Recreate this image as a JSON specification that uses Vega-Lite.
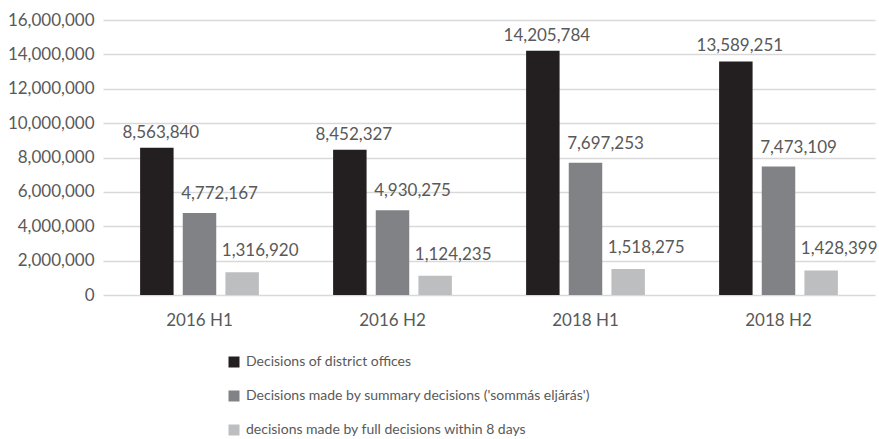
{
  "$schema": "https://vega.github.io/schema/vega-lite/v6.json",
  "width": 772,
  "height": 275,
  "autosize": {"type": "none"},
  "padding": {"left": 103, "top": 20, "right": 4, "bottom": 144},
  "background": "white",
  "config": {
    "font": "Lato",
    "view": {"stroke": null},
    "axis": {"labelColor": "#595959", "labelFont": "Lato", "labelFontSize": 17, "domain": false, "ticks": false, "title": null},
    "legend": {"labelColor": "#595959", "labelFont": "Lato", "labelFontSize": 14, "labelLimit": 700}
  },
  "data": {
    "values": [
      {"period": "2016 H1", "series": "Decisions of district offices", "value": 8563840},
      {"period": "2016 H1", "series": "Decisions made by summary decisions ('sommás eljárás')", "value": 4772167},
      {"period": "2016 H1", "series": "decisions made by full decisions within 8 days", "value": 1316920},
      {"period": "2016 H2", "series": "Decisions of district offices", "value": 8452327},
      {"period": "2016 H2", "series": "Decisions made by summary decisions ('sommás eljárás')", "value": 4930275},
      {"period": "2016 H2", "series": "decisions made by full decisions within 8 days", "value": 1124235},
      {"period": "2018 H1", "series": "Decisions of district offices", "value": 14205784},
      {"period": "2018 H1", "series": "Decisions made by summary decisions ('sommás eljárás')", "value": 7697253},
      {"period": "2018 H1", "series": "decisions made by full decisions within 8 days", "value": 1518275},
      {"period": "2018 H2", "series": "Decisions of district offices", "value": 13589251},
      {"period": "2018 H2", "series": "Decisions made by summary decisions ('sommás eljárás')", "value": 7473109},
      {"period": "2018 H2", "series": "decisions made by full decisions within 8 days", "value": 1428399}
    ]
  },
  "encoding": {
    "x": {
      "field": "period", "type": "nominal", "sort": null,
      "scale": {"paddingInner": 0.337, "paddingOuter": 0.1685},
      "axis": {"labelAngle": 0, "labelPadding": 17, "grid": false}
    },
    "xOffset": {
      "field": "series", "type": "nominal",
      "sort": ["Decisions of district offices", "Decisions made by summary decisions ('sommás eljárás')", "decisions made by full decisions within 8 days"],
      "scale": {"paddingInner": 0.215, "paddingOuter": 0.1075}
    },
    "y": {
      "field": "value", "type": "quantitative",
      "scale": {"domain": [0, 16000000], "nice": false},
      "axis": {"values": [0, 2000000, 4000000, 6000000, 8000000, 10000000, 12000000, 14000000, 16000000], "format": ",.0f", "gridColor": "#d9d9d9", "gridWidth": 1.3, "labelPadding": 9}
    }
  },
  "layer": [
    {
      "mark": {"type": "bar"},
      "encoding": {
        "color": {
          "field": "series", "type": "nominal",
          "scale": {
            "domain": ["Decisions of district offices", "Decisions made by summary decisions ('sommás eljárás')", "decisions made by full decisions within 8 days"],
            "range": ["#231f20", "#808285", "#bcbec0"]
          },
          "legend": {
            "orient": "none", "legendX": 124, "legendY": 335, "direction": "vertical",
            "title": null, "symbolType": "square", "symbolSize": 121, "symbolStrokeWidth": 0,
            "rowPadding": 20, "labelOffset": 5, "padding": 0, "symbolOpacity": 1
          }
        }
      }
    },
    {
      "transform": [{"filter": "datum.series === 'Decisions of district offices'"}],
      "mark": {"type": "text", "baseline": "middle", "dx": 4, "dy": -15, "fontSize": 17, "color": "#595959", "font": "Lato"},
      "encoding": {"text": {"field": "value", "type": "quantitative", "format": ",.0f"}}
    },
    {
      "transform": [{"filter": "datum.series === \"Decisions made by summary decisions ('sommás eljárás')\""}],
      "mark": {"type": "text", "baseline": "middle", "dx": 20, "dy": -19, "fontSize": 17, "color": "#595959", "font": "Lato"},
      "encoding": {"text": {"field": "value", "type": "quantitative", "format": ",.0f"}}
    },
    {
      "transform": [{"filter": "datum.series === 'decisions made by full decisions within 8 days'"}],
      "mark": {"type": "text", "baseline": "middle", "dx": 18, "dy": -21, "fontSize": 17, "color": "#595959", "font": "Lato"},
      "encoding": {"text": {"field": "value", "type": "quantitative", "format": ",.0f"}}
    }
  ]
}
